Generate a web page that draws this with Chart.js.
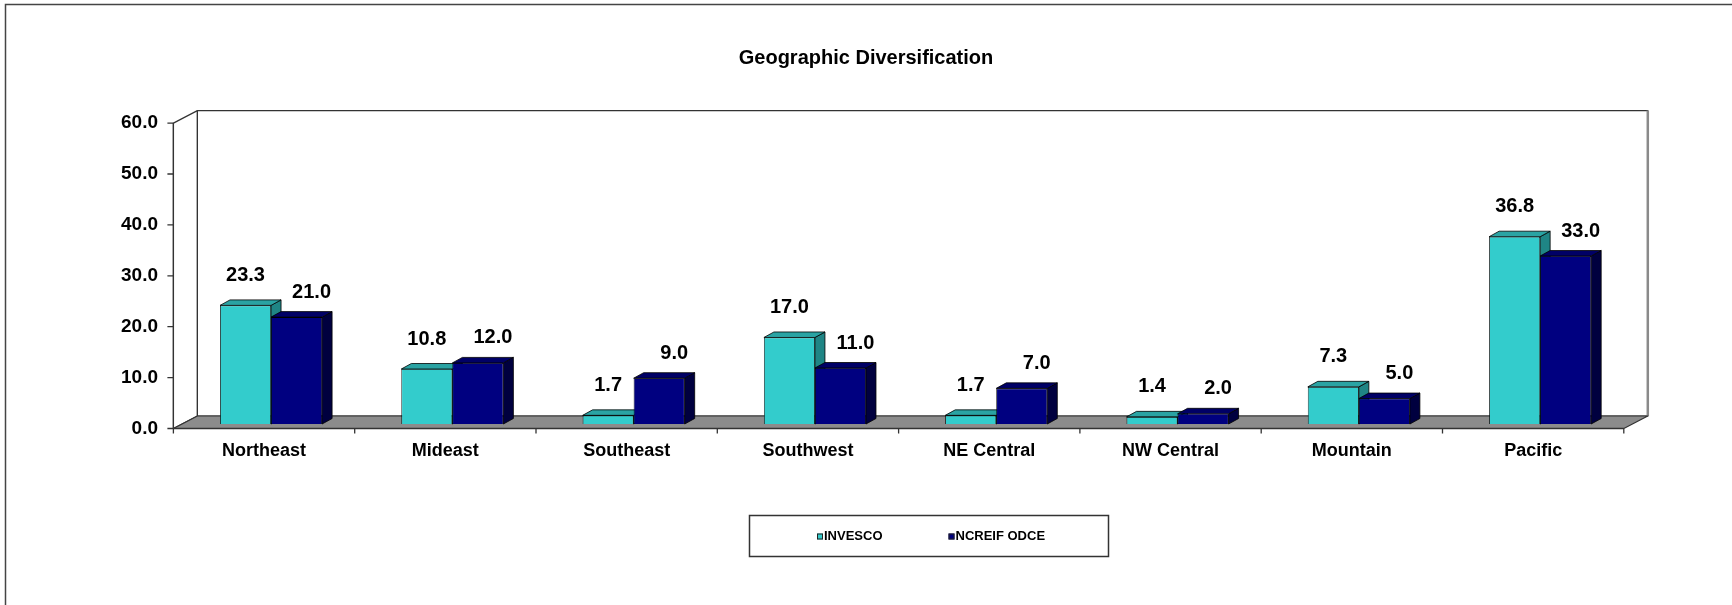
<!DOCTYPE html>
<html>
<head>
<meta charset="utf-8">
<title>Geographic Diversification</title>
<script src="https://cdn.jsdelivr.net/npm/chart.js@4.4.1/dist/chart.umd.min.js"></script>
<style>
  html, body { margin: 0; padding: 0; background: #fff; }
  canvas { display: block; }
</style>
</head>
<body>
<canvas id="geo" width="1732" height="605"></canvas>
<script>
// Portfolio weights by region, percent
const regions = ["Northeast", "Mideast", "Southeast", "Southwest", "NE Central", "NW Central", "Mountain", "Pacific"];
const invesco = [23.3, 10.8, 1.7, 17.0, 1.7, 1.4, 7.3, 36.8];
const ncreifOdce = [21.0, 12.0, 9.0, 11.0, 7.0, 2.0, 5.0, 33.0];
const seriesNames = ["INVESCO", "NCREIF ODCE"];
const yTicks = [0, 10, 20, 30, 40, 50, 60];

const FONT = "'Liberation Sans', Arial, sans-serif";
const LINE = "#333";

// fake-3D offsets, relative to the plane the bar fronts sit in
const FRONT = { dx: -7, dy: 4.5 };     // front edge of floor / value axis
const BACK = { dx: 17, dy: -8 };       // back wall
const DEPTH = { dx: 10, dy: -5.5 };    // bar thickness
const FACES = [
  { top: "#2aa3a3", side: "#1f8585" },
  { top: "#000066", side: "#00003f" }
];

function poly(ctx, pts, fill, stroke) {
  ctx.beginPath();
  ctx.moveTo(pts[0][0], pts[0][1]);
  for (let i = 1; i < pts.length; i++) ctx.lineTo(pts[i][0], pts[i][1]);
  ctx.closePath();
  if (fill) { ctx.fillStyle = fill; ctx.fill(); }
  if (stroke) { ctx.strokeStyle = stroke; ctx.stroke(); }
}

const box3d = {
  id: "box3d",
  beforeDraw(chart) {
    const { ctx } = chart;
    ctx.save();
    ctx.strokeStyle = "#444";
    ctx.lineWidth = 1.5;
    ctx.strokeRect(5.5, 4.5, chart.width + 20, chart.height + 20);
    ctx.restore();
  },
  beforeDatasetsDraw(chart) {
    const { ctx, chartArea: a, scales: { y } } = chart;
    const y0 = y.getPixelForValue(0), yTop = y.getPixelForValue(yTicks[yTicks.length - 1]);
    const L = a.left, R = a.right;
    ctx.save();
    ctx.lineWidth = 1.2;
    ctx.lineJoin = "round";
    // side wall, back wall, floor
    poly(ctx, [[L + FRONT.dx, yTop + FRONT.dy], [L + BACK.dx, yTop + BACK.dy], [L + BACK.dx, y0 + BACK.dy], [L + FRONT.dx, y0 + FRONT.dy]], "#fff", LINE);
    poly(ctx, [[L + BACK.dx, yTop + BACK.dy], [R + BACK.dx, yTop + BACK.dy], [R + BACK.dx, y0 + BACK.dy], [L + BACK.dx, y0 + BACK.dy]], "#fff", LINE);
    ctx.strokeStyle = "#8a8a8a";
    ctx.lineWidth = 2.5;
    ctx.beginPath();
    ctx.moveTo(R + BACK.dx, yTop + BACK.dy);
    ctx.lineTo(R + BACK.dx, y0 + BACK.dy);
    ctx.stroke();
    ctx.lineWidth = 1.2;
    poly(ctx, [[L + FRONT.dx, y0 + FRONT.dy], [R + FRONT.dx, y0 + FRONT.dy], [R + BACK.dx, y0 + BACK.dy], [L + BACK.dx, y0 + BACK.dy]], "#8c8c8c", LINE);

    // top and right faces of the columns; fronts are drawn by Chart.js on top
    ctx.lineWidth = 0.8;
    const metas = chart.data.datasets.map((_, d) => chart.getDatasetMeta(d));
    for (let i = 0; i < regions.length; i++) {
      metas.forEach((meta, d) => {
        const el = meta.data[i];
        const l = el.x - el.width / 2, r = el.x + el.width / 2;
        poly(ctx, [[r, el.y], [r + DEPTH.dx, el.y + DEPTH.dy], [r + DEPTH.dx, el.base + DEPTH.dy], [r, el.base]], FACES[d].side, "#000");
        poly(ctx, [[l, el.y], [l + DEPTH.dx, el.y + DEPTH.dy], [r + DEPTH.dx, el.y + DEPTH.dy], [r, el.y]], FACES[d].top, "#000");
      });
    }
    ctx.restore();
  },
  afterDatasetsDraw(chart) {
    const { ctx, chartArea: a, scales: { x, y } } = chart;
    const y0 = y.getPixelForValue(0);
    const ax = a.left + FRONT.dx;
    ctx.save();
    ctx.strokeStyle = LINE;
    ctx.lineWidth = 1.3;
    ctx.beginPath();
    ctx.moveTo(ax, y.getPixelForValue(yTicks[yTicks.length - 1]) + FRONT.dy);
    ctx.lineTo(ax, y0 + FRONT.dy);
    ctx.lineTo(a.right + FRONT.dx, y0 + FRONT.dy);
    yTicks.forEach(v => {
      const yy = y.getPixelForValue(v) + FRONT.dy;
      ctx.moveTo(ax - 6, yy);
      ctx.lineTo(ax, yy);
    });
    const step = x.getPixelForValue(1) - x.getPixelForValue(0);
    for (let i = 0; i <= regions.length; i++) {
      const xx = x.getPixelForValue(0) - step / 2 + i * step + FRONT.dx;
      ctx.moveTo(xx, y0 + FRONT.dy);
      ctx.lineTo(xx, y0 + FRONT.dy + 5);
    }
    ctx.stroke();

    // value labels
    ctx.fillStyle = "#000";
    ctx.font = "bold 20px " + FONT;
    ctx.textAlign = "center";
    ctx.textBaseline = "middle";
    chart.data.datasets.forEach((ds, d) => {
      chart.getDatasetMeta(d).data.forEach((el, i) => {
        const dx = d === 0 ? 0 : 15, dy = d === 0 ? -30 : -25;
        ctx.fillText(ds.data[i].toFixed(1), el.x + dx, el.y + dy);
      });
    });
    ctx.restore();
  },
  afterDraw(chart) {
    // boxed legend under the plot
    const { ctx } = chart;
    ctx.save();
    ctx.strokeStyle = LINE;
    ctx.lineWidth = 1.5;
    ctx.strokeRect(749.5, 515.5, 359, 41);
    ctx.font = "bold 13px " + FONT;
    ctx.textBaseline = "middle";
    const cy = 536.5;
    let xx = 817;
    chart.data.datasets.forEach((ds, d) => {
      ctx.fillStyle = ds.backgroundColor;
      ctx.fillRect(xx, cy - 3, 6, 6);
      ctx.strokeStyle = "#222";
      ctx.lineWidth = 1;
      ctx.strokeRect(xx + 0.5, cy - 2.5, 5, 5);
      ctx.fillStyle = "#000";
      ctx.fillText(ds.label, xx + 7, cy);
      xx += 7 + ctx.measureText(ds.label).width + 66;
    });
    ctx.restore();
  }
};

new Chart(document.getElementById("geo"), {
  type: "bar",
  data: {
    labels: regions,
    datasets: [
      { label: seriesNames[0], data: invesco, backgroundColor: "#33cccc", borderColor: "#000", borderWidth: 0.8 },
      { label: seriesNames[1], data: ncreifOdce, backgroundColor: "#000080", borderColor: "#000", borderWidth: 0.8 }
    ]
  },
  options: {
    responsive: false,
    animation: false,
    barPercentage: 1,
    categoryPercentage: 0.563,
    layout: { padding: { left: 101.2, right: 101.2, top: 0, bottom: 0 } },
    plugins: {
      legend: { display: false },
      tooltip: { enabled: false },
      title: {
        display: true, text: "Geographic Diversification", color: "#000",
        font: { family: FONT, size: 20, weight: "bold" },
        padding: { top: 46, bottom: 48.6 }
      }
    },
    scales: {
      x: {
        grid: { display: false, drawTicks: false }, border: { display: false },
        ticks: { color: "#000", font: { family: FONT, size: 18, weight: "bold" }, labelOffset: -7, padding: 16 },
        afterFit(s) { s.height = 181; }
      },
      y: {
        min: 0, max: 60,
        grid: { display: false, drawTicks: false }, border: { display: false },
        afterBuildTicks(s) { s.ticks = yTicks.map(v => ({ value: v })); },
        ticks: {
          color: "#000", font: { family: FONT, size: 19, weight: "bold" },
          padding: 22.4, labelOffset: 4.5, callback: v => v.toFixed(1)
        },
        afterFit(s) { s.width = 79.2; }
      }
    }
  },
  plugins: [box3d]
});
</script>
</body>
</html>
